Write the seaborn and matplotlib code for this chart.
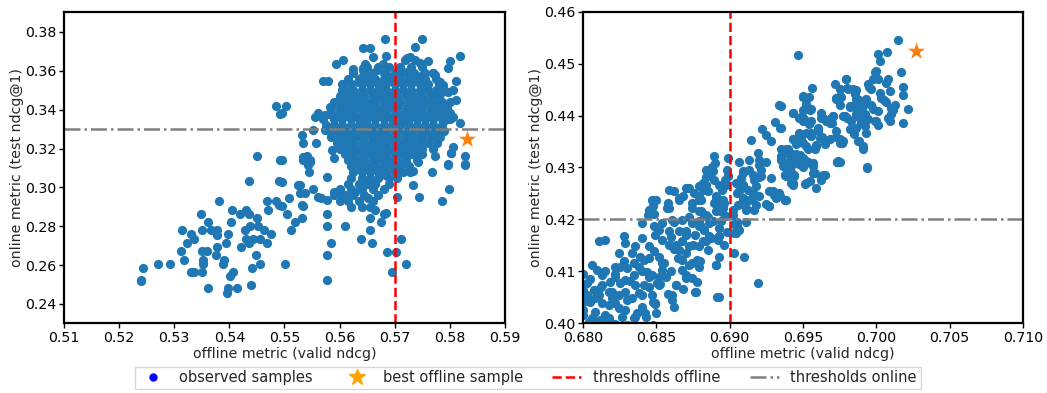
import matplotlib
matplotlib.use("Agg")
import matplotlib.pyplot as plt
import seaborn as sns
import pandas as pd
from matplotlib.lines import Line2D

# ---------------- data: left panel ----------------
left_sparse = [
    (0.5451, 0.3162), (0.5436, 0.3034), (0.5492, 0.3142), (0.5490, 0.3034), (0.5381, 0.2928),
    (0.5349, 0.2864), (0.5405, 0.2885), (0.5362, 0.2822), (0.5403, 0.2822), (0.5420, 0.2864),
    (0.5430, 0.2885), (0.5435, 0.2864), (0.5451, 0.2842), (0.5468, 0.2928), (0.5484, 0.2928),
    (0.5470, 0.2885), (0.5490, 0.2911), (0.5315, 0.2779), (0.5330, 0.2758), (0.5335, 0.2736),
    (0.5324, 0.2715), (0.5351, 0.2779), (0.5366, 0.2779), (0.5377, 0.2782), (0.5378, 0.2756),
    (0.5397, 0.2758), (0.5394, 0.2715), (0.5428, 0.2779), (0.5437, 0.2800), (0.5452, 0.2800),
    (0.5463, 0.2779), (0.5475, 0.2758), (0.5431, 0.2736), (0.5443, 0.2736), (0.5456, 0.2736),
    (0.5468, 0.2715), (0.5421, 0.2693), (0.5436, 0.2715), (0.5313, 0.2672), (0.5318, 0.2628),
    (0.5350, 0.2672), (0.5359, 0.2672), (0.5377, 0.2693), (0.5376, 0.2650), (0.5390, 0.2628),
    (0.5388, 0.2607), (0.5352, 0.2628), (0.5353, 0.2607), (0.5448, 0.2650), (0.5456, 0.2607),
    (0.5441, 0.2586), (0.5243, 0.2586), (0.5271, 0.2607), (0.5292, 0.2607), (0.5240, 0.2525),
    (0.5240, 0.2520), (0.5330, 0.2564), (0.5335, 0.2564), (0.5351, 0.2564), (0.5406, 0.2564),
    (0.5402, 0.2542), (0.5440, 0.2500), (0.5362, 0.2480), (0.5397, 0.2480), (0.5395, 0.2456),
    (0.5413, 0.2480), (0.5484, 0.3418), (0.5492, 0.3377), (0.5503, 0.3419),
]
left_mid = [
    (0.5496, 0.3142), (0.5546, 0.3142), (0.5537, 0.3159), (0.5543, 0.3116), (0.5534, 0.3142),
    (0.5544, 0.3077), (0.5577, 0.3056), (0.5495, 0.3030), (0.5528, 0.3013), (0.5525, 0.3013),
    (0.5537, 0.2970), (0.5528, 0.2970), (0.5552, 0.2991), (0.5509, 0.2948), (0.5495, 0.2905),
    (0.5531, 0.2911), (0.5534, 0.2902), (0.5531, 0.2842), (0.5519, 0.2822), (0.5504, 0.2864),
    (0.5511, 0.2779), (0.5561, 0.2950), (0.5567, 0.2945), (0.5577, 0.2936), (0.5589, 0.2974),
    (0.5601, 0.2962), (0.5577, 0.2864), (0.5577, 0.2800), (0.5610, 0.2800), (0.5584, 0.2714),
    (0.5578, 0.2650), (0.5578, 0.2522), (0.5501, 0.2607), (0.5638, 0.2736), (0.5658, 0.2714),
    (0.5655, 0.2779), (0.5656, 0.2842), (0.5664, 0.2885), (0.5675, 0.2822), (0.5681, 0.2864),
    (0.5685, 0.2868), (0.5711, 0.2736), (0.5686, 0.2670), (0.5702, 0.2670), (0.5720, 0.2607),
    (0.5695, 0.2564), (0.5734, 0.3013), (0.5744, 0.2950), (0.5798, 0.2991), (0.5785, 0.2928),
    (0.5768, 0.3077), (0.5797, 0.3120), (0.5828, 0.3120), (0.5828, 0.3162), (0.5773, 0.3162),
    (0.5802, 0.3179), (0.5734, 0.3082), (0.5728, 0.3077), (0.5705, 0.2950),
]
left_upper = [
    (0.5682, 0.3762), (0.5749, 0.3762), (0.5643, 0.3716), (0.5656, 0.3716), (0.5737, 0.3721),
    (0.5661, 0.3673), (0.5685, 0.3677), (0.5728, 0.3673), (0.5722, 0.3665), (0.5607, 0.3656),
    (0.5593, 0.3634), (0.5646, 0.3634), (0.5679, 0.3634), (0.5719, 0.3656), (0.5737, 0.3656),
    (0.5746, 0.3639), (0.5761, 0.3652), (0.5800, 0.3652), (0.5819, 0.3677), (0.5797, 0.3613),
    (0.5624, 0.3608), (0.5643, 0.3613), (0.5667, 0.3605), (0.5640, 0.3570), (0.5658, 0.3579),
    (0.5770, 0.3591), (0.5773, 0.3579), (0.5782, 0.3545), (0.5570, 0.3548), (0.5579, 0.3548),
    (0.5812, 0.3548), (0.5788, 0.3528), (0.5797, 0.3493), (0.5806, 0.3502), (0.5812, 0.3450),
    (0.5604, 0.3502), (0.5607, 0.3476), (0.5601, 0.3450), (0.5613, 0.3425), (0.5604, 0.3399),
    (0.5583, 0.3416), (0.5495, 0.3381), (0.5555, 0.3365), (0.5573, 0.3373), (0.5561, 0.3381),
    (0.5794, 0.3399), (0.5800, 0.3381), (0.5806, 0.3361), (0.5818, 0.3331), (0.5531, 0.3270),
    (0.5533, 0.3228), (0.5558, 0.3228), (0.5552, 0.3296), (0.5573, 0.3296), (0.5782, 0.3262),
    (0.5776, 0.3228), (0.5806, 0.3210), (0.5803, 0.3179), (0.5828, 0.3116), (0.5797, 0.3116),
    (0.5740, 0.3162), (0.5743, 0.3133), (0.5540, 0.3162), (0.5546, 0.3133), (0.5534, 0.3159),
    (0.5586, 0.3193), (0.5589, 0.3150),
]
# dense core of the left cloud, read row by row (online value, offline values)
left_core_online = [0.362, 0.359, 0.356, 0.353, 0.350, 0.347, 0.344, 0.341, 0.338, 0.335,
                    0.332, 0.329, 0.326, 0.323, 0.320, 0.317, 0.314, 0.311, 0.308, 0.305,
                    0.302, 0.299, 0.296, 0.293, 0.290]
left_core_offline = [
    [0.5650, 0.5670, 0.5690, 0.5710, 0.5730, 0.5750],
    [0.5625, 0.5645, 0.5660, 0.5680, 0.5700, 0.5715, 0.5735, 0.5755, 0.5770],
    [0.5615, 0.5635, 0.5650, 0.5665, 0.5680, 0.5695, 0.5710, 0.5725, 0.5740, 0.5755, 0.5775],
    [0.5605, 0.5620, 0.5640, 0.5655, 0.5670, 0.5685, 0.5700, 0.5715, 0.5730, 0.5745, 0.5760, 0.5780],
    [0.5610, 0.5625, 0.5640, 0.5655, 0.5670, 0.5685, 0.5700, 0.5715, 0.5730, 0.5745, 0.5760, 0.5775, 0.5790],
    [0.5600, 0.5615, 0.5630, 0.5645, 0.5660, 0.5675, 0.5690, 0.5705, 0.5720, 0.5735, 0.5750, 0.5765, 0.5780],
    [0.5590, 0.5605, 0.5620, 0.5635, 0.5650, 0.5665, 0.5680, 0.5695, 0.5710, 0.5725, 0.5740, 0.5755, 0.5770, 0.5785, 0.5800],
    [0.5585, 0.5600, 0.5615, 0.5630, 0.5645, 0.5660, 0.5675, 0.5690, 0.5705, 0.5720, 0.5735, 0.5750, 0.5765, 0.5780, 0.5795],
    [0.5580, 0.5595, 0.5610, 0.5625, 0.5640, 0.5655, 0.5670, 0.5685, 0.5700, 0.5715, 0.5730, 0.5745, 0.5760, 0.5775, 0.5790],
    [0.5570, 0.5590, 0.5605, 0.5620, 0.5635, 0.5650, 0.5665, 0.5680, 0.5695, 0.5710, 0.5725, 0.5740, 0.5755, 0.5770, 0.5785, 0.5800],
    [0.5575, 0.5590, 0.5605, 0.5620, 0.5635, 0.5650, 0.5665, 0.5680, 0.5695, 0.5710, 0.5725, 0.5740, 0.5755, 0.5770, 0.5785],
    [0.5580, 0.5595, 0.5610, 0.5625, 0.5640, 0.5655, 0.5670, 0.5685, 0.5700, 0.5715, 0.5730, 0.5745, 0.5760, 0.5775, 0.5790],
    [0.5585, 0.5600, 0.5615, 0.5630, 0.5645, 0.5660, 0.5675, 0.5690, 0.5705, 0.5720, 0.5735, 0.5750, 0.5765, 0.5780],
    [0.5595, 0.5610, 0.5625, 0.5640, 0.5655, 0.5670, 0.5685, 0.5700, 0.5715, 0.5730, 0.5745, 0.5760],
    [0.5600, 0.5615, 0.5630, 0.5645, 0.5660, 0.5675, 0.5690, 0.5705, 0.5720, 0.5735, 0.5750, 0.5770],
    [0.5610, 0.5625, 0.5640, 0.5655, 0.5670, 0.5685, 0.5700, 0.5715, 0.5730, 0.5750],
    [0.5615, 0.5630, 0.5645, 0.5660, 0.5675, 0.5690, 0.5705, 0.5720, 0.5740],
    [0.5620, 0.5635, 0.5650, 0.5665, 0.5680, 0.5695, 0.5710, 0.5725],
    [0.5625, 0.5640, 0.5655, 0.5670, 0.5685, 0.5700, 0.5715],
    [0.5620, 0.5640, 0.5655, 0.5670, 0.5690, 0.5705],
    [0.5615, 0.5635, 0.5650, 0.5665, 0.5690],
    [0.5600, 0.5620, 0.5640, 0.5660, 0.5680],
    [0.5590, 0.5610, 0.5625, 0.5645, 0.5670],
    [0.5600, 0.5615, 0.5635, 0.5660],
    [0.5620, 0.5640, 0.5655],
]
# extra points between the core rows (the cloud is not a grid)
left_core_extra = [
    (0.5642, 0.3605), (0.5688, 0.3575), (0.5722, 0.3592), (0.5748, 0.3572), (0.5633, 0.3545),
    (0.5676, 0.3515), (0.5712, 0.3545), (0.5758, 0.3515), (0.5618, 0.3485), (0.5662, 0.3458),
    (0.5698, 0.3488), (0.5742, 0.3455), (0.5782, 0.3482), (0.5608, 0.3428), (0.5652, 0.3398),
    (0.5688, 0.3425), (0.5732, 0.3395), (0.5772, 0.3428), (0.5597, 0.3368), (0.5642, 0.3338),
    (0.5678, 0.3365), (0.5722, 0.3338), (0.5762, 0.3368), (0.5792, 0.3345), (0.5598, 0.3305),
    (0.5658, 0.3278), (0.5702, 0.3305), (0.5748, 0.3278), (0.5782, 0.3305), (0.5612, 0.3245),
    (0.5648, 0.3215), (0.5692, 0.3245), (0.5738, 0.3215), (0.5622, 0.3185), (0.5668, 0.3155),
    (0.5712, 0.3185), (0.5632, 0.3125), (0.5678, 0.3095), (0.5718, 0.3125), (0.5648, 0.3035),
    (0.5682, 0.3065), (0.5628, 0.2975), (0.5652, 0.2945),
]
left_best = (0.5832, 0.3250)
left_thr_offline = 0.57
left_thr_online = 0.33

# ---------------- data: right panel ----------------
right_high = [
    (0.70146, 0.45464), (0.70073, 0.45231), (0.70011, 0.45187), (0.70023, 0.45057), (0.70166, 0.44833),
    (0.69989, 0.44833), (0.70000, 0.44864), (0.70011, 0.44703), (0.69790, 0.44703), (0.70068, 0.44626),
    (0.69943, 0.44606), (0.69966, 0.44509), (0.69799, 0.44542), (0.70091, 0.44477), (0.69859, 0.44496),
    (0.69852, 0.44413), (0.69863, 0.44316), (0.70023, 0.44432), (0.70034, 0.44348), (0.70068, 0.44264),
    (0.70182, 0.44393), (0.69761, 0.44368), (0.69932, 0.44329), (0.69818, 0.44175), (0.69840, 0.44187),
    (0.69886, 0.44175), (0.69909, 0.44187), (0.69966, 0.44200), (0.69977, 0.44122), (0.70125, 0.44200),
    (0.70114, 0.44109), (0.70103, 0.44026), (0.70216, 0.44135), (0.70011, 0.44090), (0.69784, 0.43993),
    (0.69863, 0.43993), (0.69886, 0.43962), (0.69920, 0.44026), (0.69943, 0.43929), (0.70080, 0.43962),
    (0.70091, 0.43897), (0.69829, 0.43897), (0.69898, 0.43865), (0.69989, 0.43897), (0.70011, 0.43813),
    (0.70182, 0.43865), (0.69818, 0.43735), (0.69927, 0.43658), (0.69767, 0.43464), (0.69881, 0.43509),
    (0.69909, 0.43412), (0.69749, 0.43102), (0.69939, 0.43006), (0.69465, 0.45167), (0.69560, 0.44529),
    (0.69499, 0.44368), (0.69540, 0.44368), (0.69351, 0.44187), (0.69430, 0.44045), (0.69499, 0.44109),
    (0.69495, 0.43993), (0.69510, 0.43929), (0.69556, 0.44122), (0.69624, 0.44058), (0.69635, 0.43962),
    (0.69681, 0.43865), (0.69704, 0.43993), (0.69351, 0.43768), (0.69540, 0.43832), (0.69556, 0.43658),
    (0.69601, 0.43768), (0.69476, 0.43574), (0.69499, 0.43477), (0.69522, 0.43412), (0.69430, 0.43555),
    (0.69590, 0.43425), (0.69631, 0.43594), (0.69681, 0.43542), (0.69727, 0.43594), (0.69765, 0.43464),
    (0.69715, 0.44606), (0.69749, 0.44380), (0.69727, 0.44329), (0.69795, 0.44703), (0.69806, 0.44522),
    (0.69749, 0.44509), (0.69840, 0.44509), (0.69818, 0.44187), (0.69863, 0.44026), (0.69772, 0.43993),
    (0.69727, 0.44348), (0.69704, 0.43993), (0.69863, 0.43768), (0.69875, 0.43509), (0.69749, 0.43477),
    (0.69738, 0.43122), (0.69499, 0.44380), (0.69522, 0.44220), (0.69430, 0.44058), (0.69476, 0.43962),
    (0.69499, 0.43897), (0.69556, 0.43897), (0.69658, 0.43897), (0.69692, 0.43962), (0.69522, 0.43671),
    (0.69476, 0.43671), (0.69556, 0.43606), (0.69488, 0.43542), (0.69430, 0.43542), (0.69613, 0.43574),
    (0.69590, 0.43412), (0.69772, 0.43509), (0.69727, 0.43703), (0.69335, 0.44200), (0.69312, 0.43877),
    (0.69346, 0.43755), (0.69221, 0.43735), (0.69248, 0.43619), (0.69283, 0.43509), (0.69146, 0.43529),
]
right_mid = [
    (0.69351, 0.43219), (0.69385, 0.43348), (0.69408, 0.43284), (0.69430, 0.43219), (0.69476, 0.43187),
    (0.69522, 0.43122), (0.69567, 0.43090), (0.69385, 0.43058), (0.69731, 0.43109), (0.68895, 0.43219),
    (0.68902, 0.43090), (0.68986, 0.43187), (0.69066, 0.43102), (0.69134, 0.43141), (0.69191, 0.43271),
    (0.69198, 0.43141), (0.69248, 0.43102), (0.68839, 0.42961), (0.68861, 0.42897), (0.68839, 0.42820),
    (0.68884, 0.42929), (0.68986, 0.42845), (0.68970, 0.42768), (0.69089, 0.42929), (0.69134, 0.42961),
    (0.69214, 0.42961), (0.69203, 0.42820), (0.69169, 0.42768), (0.69089, 0.42671), (0.69351, 0.43187),
    (0.69390, 0.43284), (0.69408, 0.43141), (0.69380, 0.43013), (0.69419, 0.42909), (0.69380, 0.42864),
    (0.69442, 0.42845), (0.69476, 0.43058), (0.69499, 0.43187), (0.69533, 0.43102), (0.69567, 0.43025),
    (0.69579, 0.42897), (0.69545, 0.42735), (0.69517, 0.42690), (0.69590, 0.42607), (0.69647, 0.42864),
    (0.69624, 0.42781), (0.69731, 0.43102), (0.69430, 0.42671), (0.68793, 0.42638), (0.68815, 0.42574),
    (0.68793, 0.42444), (0.68804, 0.42380), (0.68929, 0.42671), (0.68947, 0.42574), (0.68907, 0.42444),
    (0.68895, 0.42316), (0.68929, 0.42380), (0.68963, 0.42316), (0.68952, 0.42220), (0.69066, 0.42541),
    (0.69123, 0.42574), (0.69157, 0.42509), (0.69203, 0.42444), (0.69089, 0.42412), (0.69134, 0.42380),
    (0.69055, 0.42284), (0.69112, 0.42220), (0.69180, 0.42284), (0.69271, 0.42541), (0.69305, 0.42477),
    (0.69317, 0.42412), (0.69380, 0.42380), (0.69271, 0.42251), (0.68793, 0.42154), (0.68827, 0.42057),
    (0.68793, 0.41961), (0.68884, 0.41961), (0.68941, 0.41961), (0.68975, 0.42057), (0.69020, 0.42090),
    (0.69112, 0.41941), (0.69066, 0.41800), (0.69032, 0.41736), (0.68827, 0.41800), (0.68861, 0.41670),
    (0.68929, 0.41670), (0.68839, 0.41573), (0.68963, 0.41510), (0.68793, 0.41477), (0.69362, 0.43284),
    (0.69408, 0.43284), (0.69442, 0.43155), (0.69476, 0.43091), (0.69522, 0.43091), (0.69567, 0.43058),
    (0.69419, 0.43025), (0.69374, 0.42864), (0.69442, 0.42864), (0.69567, 0.42897), (0.69635, 0.42864),
    (0.69624, 0.42768), (0.69419, 0.42704), (0.69522, 0.42704), (0.69738, 0.43102), (0.69936, 0.42994),
    (0.69374, 0.42380), (0.69340, 0.42444), (0.69909, 0.43348), (0.69533, 0.43348), (0.69396, 0.43348),
    (0.69453, 0.43251), (0.69362, 0.43025), (0.69408, 0.43058), (0.69430, 0.42704), (0.69385, 0.42831),
]
right_low = [
    (0.68472, 0.42381), (0.68654, 0.42381), (0.68745, 0.42317), (0.68791, 0.42381), (0.68904, 0.42381),
    (0.68950, 0.42317), (0.68449, 0.42187), (0.68586, 0.42220), (0.68483, 0.42104), (0.68745, 0.42220),
    (0.68802, 0.42154), (0.68836, 0.42090), (0.68904, 0.42154), (0.68950, 0.42220), (0.68403, 0.41930),
    (0.68483, 0.41864), (0.68540, 0.41930), (0.68608, 0.41993), (0.68677, 0.41993), (0.68745, 0.41930),
    (0.68791, 0.41864), (0.68859, 0.41930), (0.68927, 0.41833), (0.69030, 0.41910), (0.69052, 0.41864),
    (0.68494, 0.41703), (0.68586, 0.41767), (0.68540, 0.41606), (0.68654, 0.41767), (0.68699, 0.41703),
    (0.68767, 0.41703), (0.68825, 0.41800), (0.68870, 0.41639), (0.68927, 0.41670), (0.69041, 0.41736),
    (0.68107, 0.41573), (0.68152, 0.41606), (0.68278, 0.41670), (0.68289, 0.41543), (0.68403, 0.41639),
    (0.68357, 0.41477), (0.68449, 0.41477), (0.68483, 0.41380), (0.68586, 0.41510), (0.68631, 0.41510),
    (0.68654, 0.41413), (0.68677, 0.41573), (0.68722, 0.41477), (0.68244, 0.41349), (0.68335, 0.41349),
    (0.68392, 0.41283), (0.68415, 0.41219), (0.68517, 0.41283), (0.68540, 0.41155), (0.68677, 0.41219),
    (0.68745, 0.41155), (0.68779, 0.41219), (0.68927, 0.41283), (0.68904, 0.41122), (0.69030, 0.41349),
    (0.68062, 0.41122), (0.68096, 0.41026), (0.68130, 0.40929), (0.68221, 0.41090), (0.68278, 0.41187),
    (0.68301, 0.41058), (0.68381, 0.41090), (0.68437, 0.40993), (0.68472, 0.40929), (0.68540, 0.41026),
    (0.68563, 0.40896), (0.68677, 0.41026), (0.68699, 0.40929), (0.68745, 0.40864), (0.68791, 0.41090),
    (0.68027, 0.40768), (0.68073, 0.40639), (0.68130, 0.40735), (0.68187, 0.40800), (0.68221, 0.40896),
    (0.68255, 0.40768), (0.68289, 0.40833), (0.68346, 0.40929), (0.68357, 0.40735), (0.68415, 0.40735),
    (0.68449, 0.40896), (0.68506, 0.40768), (0.68528, 0.40749), (0.68631, 0.40735), (0.68027, 0.40542),
    (0.68107, 0.40542), (0.68176, 0.40606), (0.68198, 0.40478), (0.68244, 0.40542), (0.68289, 0.40606),
    (0.68335, 0.40478), (0.68403, 0.40542), (0.68472, 0.40542), (0.68608, 0.40542), (0.68767, 0.40606),
    (0.68915, 0.40509), (0.68050, 0.40412), (0.68130, 0.40381), (0.68221, 0.40381), (0.68244, 0.40284),
    (0.68289, 0.40252), (0.68403, 0.40316), (0.68494, 0.40381), (0.68608, 0.40445), (0.68084, 0.40219),
    (0.68062, 0.40091), (0.68176, 0.40091), (0.68267, 0.40122), (0.68357, 0.40122), (0.68426, 0.40187),
    (0.68039, 0.40025), (0.68118, 0.40058), (0.68000, 0.40639), (0.68000, 0.40542), (0.68000, 0.40412),
    (0.68000, 0.40252), (0.68000, 0.40155), (0.68588, 0.42574), (0.68622, 0.42541), (0.68656, 0.42412),
    (0.68724, 0.42607), (0.68759, 0.42509), (0.68793, 0.42380), (0.68907, 0.42380), (0.68952, 0.42380),
    (0.68497, 0.42380), (0.68463, 0.42187), (0.68440, 0.42090), (0.68576, 0.42220), (0.69191, 0.40768),
    (0.68770, 0.40606), (0.68925, 0.40509), (0.68492, 0.40368), (0.68519, 0.40735), (0.68633, 0.40735),
    (0.68702, 0.40865), (0.69100, 0.41283), (0.68907, 0.41122), (0.68371, 0.40187), (0.68428, 0.40122),
    (0.68178, 0.40058), (0.68849, 0.42864), (0.68895, 0.42768), (0.68839, 0.42671), (0.68849, 0.42541),
    (0.68986, 0.42831), (0.69089, 0.42897), (0.69157, 0.42864), (0.69214, 0.42831), (0.68975, 0.42671),
    (0.69043, 0.42704), (0.69089, 0.42671), (0.69294, 0.42541), (0.69339, 0.42509), (0.69385, 0.42380),
    (0.69271, 0.42251), (0.69157, 0.42509), (0.69089, 0.42380), (0.69020, 0.42187), (0.69112, 0.42187),
    (0.69169, 0.42187), (0.68300, 0.39960), (0.68220, 0.39980), (0.68480, 0.39970),
]
right_fill = [
    (0.6805, 0.4085), (0.6812, 0.4070), (0.6820, 0.4060), (0.6808, 0.4048), (0.6818, 0.4035),
    (0.6830, 0.4045), (0.6838, 0.4058), (0.6845, 0.4070), (0.6832, 0.4082), (0.6822, 0.4095),
    (0.6840, 0.4100), (0.6852, 0.4088), (0.6860, 0.4100), (0.6855, 0.4115), (0.6865, 0.4125),
    (0.6872, 0.4112), (0.6880, 0.4120), (0.6870, 0.4135), (0.6862, 0.4142), (0.6875, 0.4150),
    (0.6885, 0.4140), (0.6882, 0.4158), (0.6845, 0.4125), (0.6835, 0.4115), (0.6825, 0.4108),
    (0.6815, 0.4100), (0.6800, 0.4095), (0.6848, 0.4040), (0.6858, 0.4055), (0.6868, 0.4065),
    (0.6878, 0.4080), (0.6850, 0.4020), (0.6862, 0.4030), (0.6835, 0.4010), (0.6815, 0.4015),
    (0.6892, 0.4160), (0.6898, 0.4175), (0.6905, 0.4195), (0.6860, 0.4165), (0.6870, 0.4178),
    (0.6880, 0.4190), (0.6852, 0.4180), (0.6862, 0.4195), (0.6872, 0.4205), (0.6885, 0.4205),
    (0.6895, 0.4215), (0.6892, 0.4232), (0.6880, 0.4240), (0.6868, 0.4245), (0.6858, 0.4232),
    (0.6848, 0.4225), (0.6870, 0.4260), (0.6882, 0.4270), (0.6895, 0.4262), (0.6905, 0.4250),
    (0.6915, 0.4240), (0.6925, 0.4230), (0.6918, 0.4265), (0.6928, 0.4280), (0.6940, 0.4290),
    (0.6950, 0.4300), (0.6908, 0.4280), (0.6898, 0.4295), (0.6888, 0.4300), (0.6920, 0.4305),
    (0.6935, 0.4315), (0.6948, 0.4325), (0.6958, 0.4335), (0.6965, 0.4345), (0.6975, 0.4355),
    (0.6985, 0.4365), (0.6945, 0.4345), (0.6935, 0.4335), (0.6960, 0.4370), (0.6970, 0.4385),
    (0.6980, 0.4395), (0.6990, 0.4405), (0.6962, 0.4395), (0.6955, 0.4410), (0.6975, 0.4420),
    (0.6988, 0.4430), (0.6995, 0.4455), (0.6998, 0.4470), (0.6992, 0.4380), (0.7000, 0.4390),
    (0.7010, 0.4415), (0.7005, 0.4430), (0.7018, 0.4455), (0.7008, 0.4470),
]
right_best = (0.70273, 0.45239)
right_thr_offline = 0.69
right_thr_online = 0.42

# ---------------- assemble tables ----------------
left_pairs = left_sparse + left_mid + left_upper + left_core_extra
for yv, row in zip(left_core_online, left_core_offline):
    left_pairs += [(xv, yv) for xv in row]
df_left = pd.DataFrame(left_pairs, columns=["offline", "online"])
df_right = pd.DataFrame(right_low + right_mid + right_high + right_fill,
                        columns=["offline", "online"])

# ---------------- style ----------------
sns.set_style("ticks")
plt.rcParams["font.family"] = ["DejaVu Sans"]
plt.rcParams["axes.edgecolor"] = "black"
plt.rcParams["axes.linewidth"] = 1.6
plt.rcParams["xtick.color"] = "black"
plt.rcParams["ytick.color"] = "black"

FS = 10.2
LEG_FS = 10.5
PT_COLOR = "#1f77b4"
STAR_COLOR = "#ff7f0e"

fig = plt.figure(figsize=(10.47, 3.93), dpi=100)
ax1 = fig.add_axes([0.0611, 0.1781, 0.4212, 0.7914])
ax2 = fig.add_axes([0.5568, 0.1781, 0.4203, 0.7914])


def draw(ax, df, best, thr_off, thr_on):
    sns.scatterplot(data=df, x="offline", y="online", ax=ax, color=PT_COLOR,
                    s=44, linewidth=0, legend=False, zorder=1)
    ax.axvline(thr_off, color="red", ls="--", lw=1.8, zorder=2)
    ax.axhline(thr_on, color="gray", ls="-.", lw=1.8, zorder=2)
    sns.scatterplot(x=[best[0]], y=[best[1]], ax=ax, color=STAR_COLOR, marker="*",
                    s=170, linewidth=0, legend=False, zorder=3)
    ax.set_xlabel("offline metric (valid ndcg)", fontsize=FS, labelpad=2)
    ax.set_ylabel("online metric (test ndcg@1)", fontsize=FS, labelpad=1)
    ax.tick_params(labelsize=FS, length=3.5, width=1, pad=2)


draw(ax1, df_left, left_best, left_thr_offline, left_thr_online)
ax1.set_xlim(0.51, 0.59)
ax1.set_ylim(0.2302, 0.3903)
ax1.set_xticks([0.51, 0.52, 0.53, 0.54, 0.55, 0.56, 0.57, 0.58, 0.59])
ax1.set_xticklabels(["0.51", "0.52", "0.53", "0.54", "0.55", "0.56", "0.57", "0.58", "0.59"])
ax1.set_yticks([0.24, 0.26, 0.28, 0.30, 0.32, 0.34, 0.36, 0.38])
ax1.set_yticklabels(["0.24", "0.26", "0.28", "0.30", "0.32", "0.34", "0.36", "0.38"])

draw(ax2, df_right, right_best, right_thr_offline, right_thr_online)
ax2.set_xlim(0.68, 0.71)
ax2.set_ylim(0.40, 0.46)
ax2.set_xticks([0.680, 0.685, 0.690, 0.695, 0.700, 0.705, 0.710])
ax2.set_xticklabels(["0.680", "0.685", "0.690", "0.695", "0.700", "0.705", "0.710"])
ax2.set_yticks([0.40, 0.41, 0.42, 0.43, 0.44, 0.45, 0.46])
ax2.set_yticklabels(["0.40", "0.41", "0.42", "0.43", "0.44", "0.45", "0.46"])

handles = [
    Line2D([], [], marker="o", ls="none", color="blue", markersize=5),
    Line2D([], [], marker="*", ls="none", color="orange", markersize=12),
    Line2D([], [], ls="--", color="red", lw=1.8),
    Line2D([], [], ls="-.", color="gray", lw=1.8),
]
labels = ["observed samples", "best offline sample", "thresholds offline", "thresholds online"]
fig.legend(handles, labels, loc="lower center", bbox_to_anchor=(0.504, -0.008), ncol=4,
           fontsize=LEG_FS, frameon=True, fancybox=False, edgecolor="#cccccc",
           borderpad=0.25)

fig.savefig("out.png", dpi=100)
